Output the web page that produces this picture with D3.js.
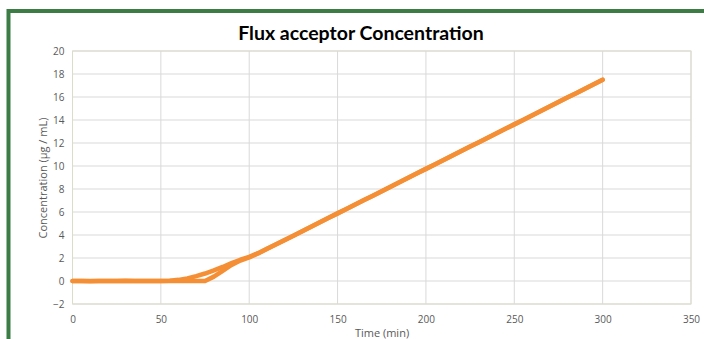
<!DOCTYPE html>
<html>
<head>
<meta charset="utf-8">
<script src="https://cdn.jsdelivr.net/npm/d3@7"></script>
<style>
  body { margin: 0; background: #fff; }
  svg { display: block; }
</style>
</head>
<body>
<svg width="704" height="339"></svg>
<script>
var svg = d3.select("svg");

// data (min -> µg/mL)
var times = [0, 5, 10, 15, 20, 25, 30, 35, 40, 45, 50, 55, 60, 65, 70, 75, 80, 85, 90, 95, 100,
  105, 110, 115, 120, 125, 130, 135, 140, 145, 150, 155, 160, 165, 170, 175, 180, 185, 190, 195, 200,
  205, 210, 215, 220, 225, 230, 235, 240, 245, 250, 255, 260, 265, 270, 275, 280, 285, 290, 295, 300];
var runA = [0, 0.01, -0.02, 0, 0.01, 0, 0.02, 0, -0.01, 0.01, 0, 0.03, 0.1, 0.22, 0.42, 0.65, 0.92, 1.22, 1.55, 1.85, 2.1,
  2.42, 2.8, 3.18, 3.56, 3.94, 4.33, 4.71, 5.1, 5.49, 5.88, 6.26, 6.65, 7.04, 7.42, 7.81, 8.2, 8.59, 8.97, 9.36, 9.75,
  10.14, 10.52, 10.91, 11.3, 11.69, 12.07, 12.46, 12.85, 13.23, 13.62, 14.01, 14.4, 14.78, 15.17, 15.56, 15.95, 16.33, 16.72, 17.11, 17.5];
var runB = [0, -0.01, 0, 0.01, 0, 0, -0.01, 0.01, 0, 0, 0, 0, 0, 0, 0, 0, 0.38, 0.88, 1.4, 1.78, 2.05,
  2.4, 2.78, 3.17, 3.55, 3.94, 4.33, 4.71, 5.1, 5.49, 5.88, 6.26, 6.65, 7.04, 7.42, 7.81, 8.2, 8.59, 8.97, 9.36, 9.75,
  10.14, 10.52, 10.91, 11.3, 11.69, 12.07, 12.46, 12.85, 13.23, 13.62, 14.01, 14.4, 14.78, 15.17, 15.56, 15.95, 16.33, 16.72, 17.11, 17.5];
var xTicks = [0, 50, 100, 150, 200, 250, 300, 350];
var yTicks = [-2, 0, 2, 4, 6, 8, 10, 12, 14, 16, 18, 20];

var pLeft = 72.5, pRight = 691, pTop = 51, pBottom = 304;
var x = d3.scaleLinear().domain([0, 350]).range([pLeft, pRight]);
var y = d3.scaleLinear().domain([-2, 20]).range([pBottom, pTop]);

// green frame
svg.append("path")
  .attr("d", "M8.5,339 V11 H704")
  .attr("fill", "none")
  .attr("stroke", "#3b7d45")
  .attr("stroke-width", 4);

svg.append("text")
  .attr("x", 361).attr("y", 39.5)
  .attr("text-anchor", "middle")
  .style("font-family", "Lato, 'Open Sans', sans-serif")
  .style("font-weight", "bold")
  .style("font-size", "19.5px")
  .attr("fill", "#000")
  .text("Flux acceptor Concentration");

var grid = svg.append("g");
grid.selectAll(".h").data(yTicks).enter().append("line")
  .attr("x1", pLeft).attr("x2", pRight)
  .attr("y1", function(d) { return y(d); }).attr("y2", function(d) { return y(d); })
  .attr("stroke", "#d9d9d9").attr("stroke-width", 1);
grid.selectAll(".v").data(xTicks).enter().append("line")
  .attr("x1", function(d) { return x(d); }).attr("x2", function(d) { return x(d); })
  .attr("y1", pTop).attr("y2", pBottom)
  .attr("stroke", "#d9d9d9").attr("stroke-width", 1);
svg.append("rect")
  .attr("x", pLeft).attr("y", pTop).attr("width", pRight - pLeft).attr("height", pBottom - pTop)
  .attr("fill", "none").attr("stroke", "#dcdccb").attr("stroke-width", 1);

var tickFont = "'Open Sans', sans-serif";
svg.append("g").attr("transform", "translate(0," + (pBottom + 12) + ")")
  .call(d3.axisBottom(x).tickValues(xTicks).tickSize(0).tickPadding(0))
  .call(function(g) { g.select(".domain").remove(); })
  .selectAll("text").attr("fill", "#595959").style("font-family", tickFont).style("font-size", "10px");
svg.append("g").attr("transform", "translate(" + (pLeft - 8) + ",0)")
  .call(d3.axisLeft(y).tickValues(yTicks).tickSize(0).tickPadding(0))
  .call(function(g) { g.select(".domain").remove(); })
  .selectAll("text").attr("fill", "#595959").style("font-family", tickFont).style("font-size", "10px");

svg.append("text")
  .attr("x", 382).attr("y", 337)
  .attr("text-anchor", "middle")
  .style("font-family", tickFont).style("font-size", "11px")
  .attr("fill", "#595959")
  .text("Time (min)");
svg.append("text")
  .attr("transform", "translate(46.5,178) rotate(-90)")
  .attr("text-anchor", "middle")
  .style("font-family", tickFont).style("font-size", "11px")
  .attr("fill", "#595959")
  .text("Concentration (µg / mL)");

var line = d3.line()
  .x(function(d) { return x(d[0]); })
  .y(function(d) { return y(d[1]); });
[runB, runA].forEach(function(run) {
  svg.append("path")
    .datum(d3.zip(times, run))
    .attr("d", line)
    .attr("fill", "none")
    .attr("stroke", "#f58f35")
    .attr("stroke-width", 4.5)
    .attr("stroke-linejoin", "round")
    .attr("stroke-linecap", "round");
});
</script>
</body>
</html>
